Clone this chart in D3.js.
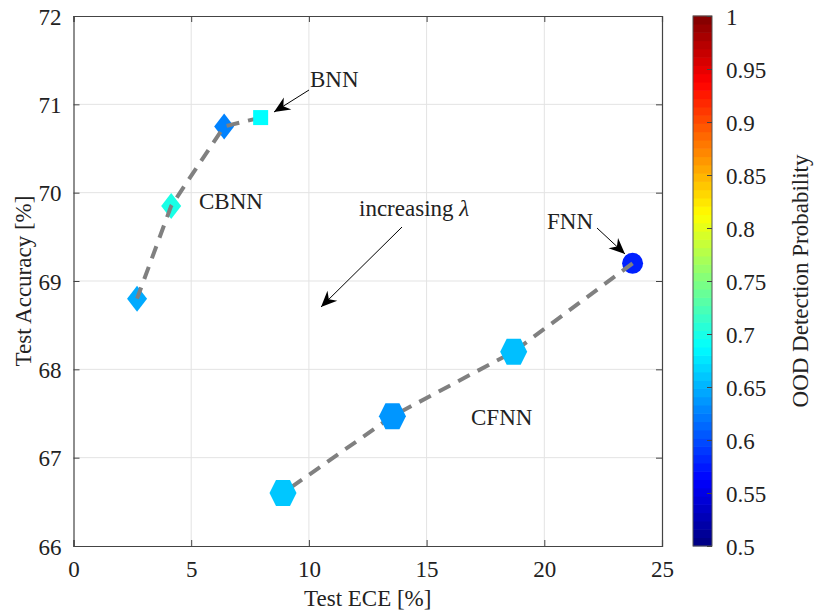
<!DOCTYPE html>
<html><head><meta charset="utf-8">
<script src="https://cdn.jsdelivr.net/npm/d3@7/dist/d3.min.js"></script>
<style>body{margin:0;background:#fff}svg{display:block}text{font-family:"Liberation Serif","Times New Roman",serif;fill:#222}</style>
</head><body>
<svg id="c" width="816" height="613"></svg>
<script>
// ---- data ----
const bnnPoint = {ece: 7.95, acc: 70.85, ood: 0.6875};
const cbnnECE = [6.4, 4.15, 2.7];
const cbnnAcc = [70.75, 69.85, 68.8];
const cbnnOOD = [0.626, 0.70, 0.646];
const fnnPoint = {ece: 23.75, acc: 69.2, ood: 0.578};
const cfnnECE = [18.7, 13.55, 8.9];
const cfnnAcc = [68.2, 67.47, 66.6];
const cfnnOOD = [0.656, 0.636, 0.66];
const xTicks = [0, 5, 10, 15, 20, 25];
const yTicks = [66, 67, 68, 69, 70, 71, 72];
const cTicks = [0.5, 0.55, 0.6, 0.65, 0.7, 0.75, 0.8, 0.85, 0.9, 0.95, 1];

const svg = d3.select("#c");
const L = 73.5, R = 662, T = 16, B = 546;
const x = d3.scaleLinear().domain([0, 25]).range([L, R]);
const y = d3.scaleLinear().domain([66, 72]).range([B, T]);
const FS = 23;

function jet(t){
  const c = v => Math.max(0, Math.min(1, v));
  const r = c(1.5 - Math.abs(4*t - 3)), g = c(1.5 - Math.abs(4*t - 2)), b = c(1.5 - Math.abs(4*t - 1));
  return d3.rgb(r*255, g*255, b*255).toString();
}
const cScale = d3.scaleLinear().domain([0.5, 1]).range([0, 1]);
const color = v => jet(cScale(v));

// grid
const g = svg.append("g");
g.selectAll(".gx").data(xTicks.slice(1, -1)).enter().append("line")
  .attr("x1", d => x(d)).attr("x2", d => x(d)).attr("y1", T).attr("y2", B)
  .attr("stroke", "#e3e3e3").attr("stroke-width", 1);
g.selectAll(".gy").data(yTicks.slice(1, -1)).enter().append("line")
  .attr("y1", d => y(d)).attr("y2", d => y(d)).attr("x1", L).attr("x2", R)
  .attr("stroke", "#e3e3e3").attr("stroke-width", 1);

// axes with inward ticks
const axCol = "#444";
const xb = svg.append("g").attr("transform", `translate(0,${B})`)
  .call(d3.axisBottom(x).tickValues(xTicks).tickSize(-6).tickPadding(14).tickFormat(d3.format("d")));
const xt = svg.append("g").attr("transform", `translate(0,${T})`)
  .call(d3.axisTop(x).tickValues(xTicks).tickSize(-6).tickFormat(""));
const yl = svg.append("g").attr("transform", `translate(${L},0)`)
  .call(d3.axisLeft(y).tickValues(yTicks).tickSize(-6).tickPadding(12).tickFormat(d3.format("d")));
const yr = svg.append("g").attr("transform", `translate(${R},0)`)
  .call(d3.axisRight(y).tickValues(yTicks).tickSize(-6).tickFormat(""));
[xb, xt, yl, yr].forEach(a => {
  a.select(".domain").attr("stroke", axCol).attr("stroke-width", 1.2);
  a.selectAll(".tick line").attr("stroke", axCol);
  a.selectAll("text").style("font-size", FS + "px").attr("fill", "#222")
    .style("font-family", '"Liberation Serif",serif');
});
xb.selectAll("text").attr("dy", "0.75em");
yl.selectAll("text").attr("dy", "0.36em");

// axis labels
svg.append("text").attr("x", (L + R) / 2).attr("y", 606).attr("text-anchor", "middle")
  .style("font-size", FS + "px").text("Test ECE [%]");
svg.append("text").attr("transform", `translate(31,${(T + B) / 2}) rotate(-90)`).attr("text-anchor", "middle")
  .style("font-size", FS + "px").text("Test Accuracy [%]");

// markers
const diamond = (cx, cy) => `M${cx},${cy-13}L${cx+10},${cy}L${cx},${cy+13}L${cx-10},${cy}Z`;
const hexagon = (cx, cy) => `M${cx-13.5},${cy}L${cx-7},${cy-13}L${cx+7},${cy-13}L${cx+13.5},${cy}L${cx+7},${cy+13}L${cx-7},${cy+13}Z`;

const cbnn = cbnnECE.map((e, i) => ({ece: e, acc: cbnnAcc[i], ood: cbnnOOD[i]}));
const cfnn = cfnnECE.map((e, i) => ({ece: e, acc: cfnnAcc[i], ood: cfnnOOD[i]}));

svg.selectAll(".dia").data(cbnn).enter().append("path")
  .attr("d", d => diamond(x(d.ece), y(d.acc))).attr("fill", d => color(d.ood));
svg.append("circle").attr("cx", x(fnnPoint.ece)).attr("cy", y(fnnPoint.acc)).attr("r", 10.5)
  .attr("fill", color(fnnPoint.ood));

const line = d3.line().x(d => x(d.ece)).y(d => y(d.acc));
svg.append("path").datum([bnnPoint, ...cbnn]).attr("d", line)
  .attr("fill", "none").attr("stroke", "#808080").attr("stroke-width", 4).attr("stroke-dasharray", "13,9");
svg.append("path").datum([fnnPoint, ...cfnn]).attr("d", line)
  .attr("fill", "none").attr("stroke", "#808080").attr("stroke-width", 4).attr("stroke-dasharray", "13,9");

svg.append("rect").attr("x", x(bnnPoint.ece) - 7.5).attr("y", y(bnnPoint.acc) - 7.5)
  .attr("width", 15).attr("height", 15).attr("fill", color(bnnPoint.ood));
svg.selectAll(".hex").data(cfnn).enter().append("path")
  .attr("d", d => hexagon(x(d.ece), y(d.acc))).attr("fill", d => color(d.ood));

// annotations
function arrow(x1, y1, x2, y2){
  svg.append("line").attr("x1", x1).attr("y1", y1).attr("x2", x2).attr("y2", y2)
    .attr("stroke", "#000").attr("stroke-width", 1);
  const a = Math.atan2(y2 - y1, x2 - x1), len = 16, w = 7, back = 11;
  const px = (d, o) => [x2 - d*Math.cos(a) - o*Math.sin(a), y2 - d*Math.sin(a) + o*Math.cos(a)];
  const p1 = px(len, w), p2 = px(back, 0), p3 = px(len, -w);
  svg.append("path").attr("d", `M${x2},${y2}L${p1}L${p2}L${p3}Z`).attr("fill", "#000");
}
svg.append("text").attr("x", 310).attr("y", 87).style("font-size", FS + "px").text("BNN");
arrow(309, 90, 274, 112);
svg.append("text").attr("x", 199).attr("y", 209).style("font-size", FS + "px").text("CBNN");
const inc = svg.append("text").attr("x", 359).attr("y", 216).style("font-size", FS + "px");
inc.append("tspan").text("increasing ");
inc.append("tspan").style("font-style", "italic").text("λ");
arrow(402, 227, 321, 307);
svg.append("text").attr("x", 547).attr("y", 229).style("font-size", FS + "px").text("FNN");
arrow(597, 228, 625, 254);
svg.append("text").attr("x", 471).attr("y", 425).style("font-size", FS + "px").text("CFNN");

// colorbar
const CL = 693, CR = 712;
const cy = d3.scaleLinear().domain([0.5, 1]).range([B, T]);
const N = 64;
const bands = d3.range(N).map(i => 0.5 + (i + 0.5) * 0.5 / N);
svg.selectAll(".cb").data(bands).enter().append("rect")
  .attr("x", CL).attr("width", CR - CL)
  .attr("y", d => cy(d + 0.25 / N) - 0.3).attr("height", (B - T) / N + 0.6)
  .attr("fill", d => color(d));
svg.append("rect").attr("x", CL).attr("y", T).attr("width", CR - CL).attr("height", B - T)
  .attr("fill", "none").attr("stroke", "#555").attr("stroke-width", 1);
const cax = svg.append("g").attr("transform", `translate(${CR},0)`)
  .call(d3.axisRight(cy).tickValues(cTicks).tickSize(-5).tickPadding(14).tickFormat(d => d3.format("")(+d.toFixed(2))));
cax.select(".domain").remove();
cax.selectAll(".tick line").attr("stroke", "#444");
cax.selectAll("text").style("font-size", FS + "px").attr("fill", "#222").attr("dy", "0.36em")
  .style("font-family", '"Liberation Serif",serif');
svg.append("text").attr("transform", `translate(808,${(T + B) / 2}) rotate(-90)`).attr("text-anchor", "middle")
  .style("font-size", FS + "px").text("OOD Detection Probability");
</script>
</body></html>
